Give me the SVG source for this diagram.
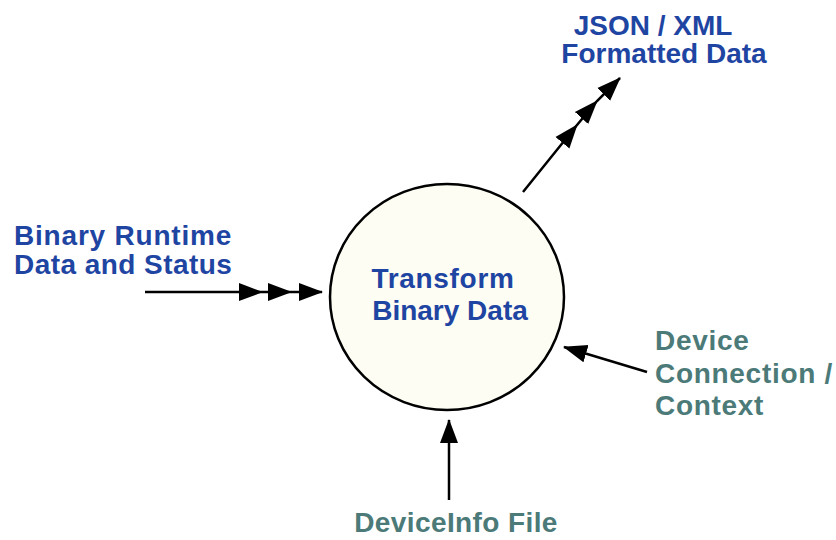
<svg xmlns="http://www.w3.org/2000/svg" width="836" height="540" viewBox="0 0 836 540">
<style>
.blue{fill:#1f45a3;font-family:"Liberation Sans",Arial,sans-serif;font-weight:bold;font-size:28px}
.teal{fill:#4b7a78;font-family:"Liberation Sans",Arial,sans-serif;font-weight:bold;font-size:28px}
.conn{fill:none;stroke:#000;stroke-width:2.5}
</style>
<defs>
<marker id="ah" viewBox="0 0 24 20" refX="23" refY="10" markerWidth="24" markerHeight="20" markerUnits="userSpaceOnUse" orient="auto">
<path d="M0,1 L24,10 L0,19 z" fill="#000"/>
</marker>
</defs>
<rect width="836" height="540" fill="#fff"/>
<g id="transform">
<ellipse cx="447" cy="297" rx="117" ry="113" fill="#fdfdf4" stroke="#000" stroke-width="2.5"/>
<text class="blue" x="443" y="288" text-anchor="middle" letter-spacing="0.7">Transform</text>
<text class="blue" x="450" y="320" text-anchor="middle" font-size="27">Binary Data</text>
</g>
<g id="binary-runtime">
<text class="blue" x="14" y="245" letter-spacing="0.8">Binary Runtime</text>
<text class="blue" x="14" y="274" letter-spacing="0.45">Data and Status</text>
</g>
<g id="json-xml">
<text class="blue" x="653" y="35" text-anchor="middle" font-size="27">JSON / XML</text>
<text class="blue" x="664" y="63" text-anchor="middle" font-size="27">Formatted Data</text>
</g>
<g id="device-connection">
<text class="teal" x="655" y="350" letter-spacing="0.7">Device</text>
<text class="teal" x="655" y="383" letter-spacing="0.7">Connection /</text>
<text class="teal" x="655" y="415" letter-spacing="0.7">Context</text>
</g>
<g id="deviceinfo">
<text class="teal" x="456" y="532" text-anchor="middle" letter-spacing="0.4">DeviceInfo File</text>
</g>
<g id="connectors">
<path class="conn" d="M145,292 L262,292 L291,292 L322,292" marker-mid="url(#ah)" marker-end="url(#ah)"/>
<path class="conn" d="M523,192 L577,125 L597,101 L620,78" marker-mid="url(#ah)" marker-end="url(#ah)"/>
<path class="conn" d="M647,372 L564,347" marker-end="url(#ah)"/>
<path class="conn" d="M449,500 L449,420" marker-end="url(#ah)"/>
</g>
</svg>
